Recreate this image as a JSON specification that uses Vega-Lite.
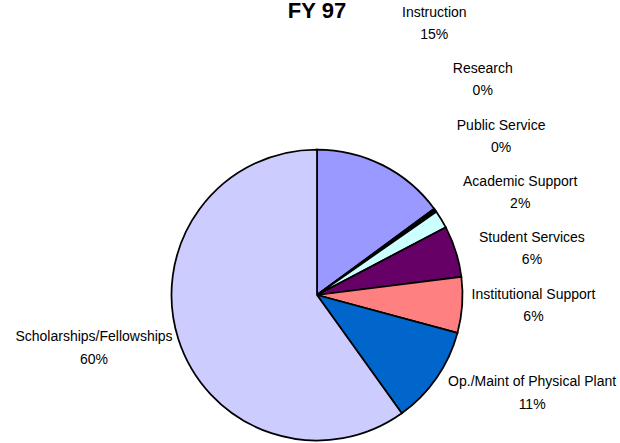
{
  "$schema": "https://vega.github.io/schema/vega-lite/v6.json",
  "autosize": {"type": "none"},
  "padding": {"left": 167, "top": 145, "right": 153, "bottom": 0},
  "width": 300,
  "height": 300,
  "background": "white",
  "config": {"view": {"stroke": null}},
  "title": {"text": "FY 97", "font": "Liberation Sans", "fontSize": 22, "fontWeight": "bold", "color": "black", "frame": "group", "anchor": "middle", "baseline": "alphabetic", "offset": -56.5},
  "data": {"values": [
    {"category": "Instruction", "share": 0.149, "rank": 1},
    {"category": "Research", "share": 0.002, "rank": 2},
    {"category": "Public Service", "share": 0.002, "rank": 3},
    {"category": "Academic Support", "share": 0.020, "rank": 4},
    {"category": "Student Services", "share": 0.057, "rank": 5},
    {"category": "Institutional Support", "share": 0.062, "rank": 6},
    {"category": "Op./Maint of Physical Plant", "share": 0.109, "rank": 7},
    {"category": "Scholarships/Fellowships", "share": 0.599, "rank": 8}
  ]},
  "encoding": {
    "theta": {"field": "share", "type": "quantitative", "stack": true},
    "order": {"field": "rank", "type": "quantitative"},
    "detail": {"field": "category", "type": "nominal"}
  },
  "layer": [
    {
      "mark": {"type": "arc", "radius": 145.5, "stroke": "black", "strokeWidth": 1.75},
      "encoding": {
        "color": {"field": "category", "type": "nominal", "legend": null,
          "scale": {"domain": ["Instruction", "Research", "Public Service", "Academic Support", "Student Services", "Institutional Support", "Op./Maint of Physical Plant", "Scholarships/Fellowships"],
                    "range": ["#9999FF", "#993366", "#FFFFCC", "#CCFFFF", "#660066", "#FF8080", "#0066CC", "#CCCCFF"]}}
      }
    },
    {"mark": {"type": "text", "radius": 291, "dx": -14, "dy": -18, "font": "Liberation Sans", "fontSize": 14, "align": "center", "baseline": "alphabetic", "color": "black"},
     "encoding": {"text": {"condition": {"test": "datum.category === 'Instruction'", "field": "category", "type": "nominal"}, "value": ""}}},
    {"mark": {"type": "text", "radius": 291, "dx": -14, "dy": 4, "font": "Liberation Sans", "fontSize": 14, "align": "center", "baseline": "alphabetic", "color": "black"},
     "encoding": {"text": {"condition": {"test": "datum.category === 'Instruction'", "field": "share", "type": "quantitative", "format": ".0%"}, "value": ""}}},
    {"mark": {"type": "text", "radius": 258, "dx": -43, "dy": -70, "font": "Liberation Sans", "fontSize": 14, "align": "center", "baseline": "alphabetic", "color": "black"},
     "encoding": {"text": {"condition": {"test": "datum.category === 'Research'", "field": "category", "type": "nominal"}, "value": ""}}},
    {"mark": {"type": "text", "radius": 258, "dx": -43, "dy": -48, "font": "Liberation Sans", "fontSize": 14, "align": "center", "baseline": "alphabetic", "color": "black"},
     "encoding": {"text": {"condition": {"test": "datum.category === 'Research'", "field": "share", "type": "quantitative", "format": ".0%"}, "value": ""}}},
    {"mark": {"type": "text", "radius": 239, "dx": -11, "dy": -27, "font": "Liberation Sans", "fontSize": 14, "align": "center", "baseline": "alphabetic", "color": "black"},
     "encoding": {"text": {"condition": {"test": "datum.category === 'Public Service'", "field": "category", "type": "nominal"}, "value": ""}}},
    {"mark": {"type": "text", "radius": 239, "dx": -11, "dy": -5, "font": "Liberation Sans", "fontSize": 14, "align": "center", "baseline": "alphabetic", "color": "black"},
     "encoding": {"text": {"condition": {"test": "datum.category === 'Public Service'", "field": "share", "type": "quantitative", "format": ".0%"}, "value": ""}}},
    {"mark": {"type": "text", "radius": 225, "dx": 11, "dy": 8, "font": "Liberation Sans", "fontSize": 14, "align": "center", "baseline": "alphabetic", "color": "black"},
     "encoding": {"text": {"condition": {"test": "datum.category === 'Academic Support'", "field": "category", "type": "nominal"}, "value": ""}}},
    {"mark": {"type": "text", "radius": 225, "dx": 11, "dy": 30, "font": "Liberation Sans", "fontSize": 14, "align": "center", "baseline": "alphabetic", "color": "black"},
     "encoding": {"text": {"condition": {"test": "datum.category === 'Academic Support'", "field": "share", "type": "quantitative", "format": ".0%"}, "value": ""}}},
    {"mark": {"type": "text", "radius": 218, "dx": 7, "dy": 12, "font": "Liberation Sans", "fontSize": 14, "align": "center", "baseline": "alphabetic", "color": "black"},
     "encoding": {"text": {"condition": {"test": "datum.category === 'Student Services'", "field": "category", "type": "nominal"}, "value": ""}}},
    {"mark": {"type": "text", "radius": 218, "dx": 7, "dy": 34, "font": "Liberation Sans", "fontSize": 14, "align": "center", "baseline": "alphabetic", "color": "black"},
     "encoding": {"text": {"condition": {"test": "datum.category === 'Student Services'", "field": "share", "type": "quantitative", "format": ".0%"}, "value": ""}}},
    {"mark": {"type": "text", "radius": 217, "dx": 0, "dy": -11, "font": "Liberation Sans", "fontSize": 14, "align": "center", "baseline": "alphabetic", "color": "black"},
     "encoding": {"text": {"condition": {"test": "datum.category === 'Institutional Support'", "field": "category", "type": "nominal"}, "value": ""}}},
    {"mark": {"type": "text", "radius": 217, "dx": 0, "dy": 11, "font": "Liberation Sans", "fontSize": 14, "align": "center", "baseline": "alphabetic", "color": "black"},
     "encoding": {"text": {"condition": {"test": "datum.category === 'Institutional Support'", "field": "share", "type": "quantitative", "format": ".0%"}, "value": ""}}},
    {"mark": {"type": "text", "radius": 235, "dx": 22, "dy": -43, "font": "Liberation Sans", "fontSize": 14, "align": "center", "baseline": "alphabetic", "color": "black"},
     "encoding": {"text": {"condition": {"test": "datum.category === 'Op./Maint of Physical Plant'", "field": "category", "type": "nominal"}, "value": ""}}},
    {"mark": {"type": "text", "radius": 235, "dx": 22, "dy": -20, "font": "Liberation Sans", "fontSize": 14, "align": "center", "baseline": "alphabetic", "color": "black"},
     "encoding": {"text": {"condition": {"test": "datum.category === 'Op./Maint of Physical Plant'", "field": "share", "type": "quantitative", "format": ".0%"}, "value": ""}}},
    {"mark": {"type": "text", "radius": 230, "dx": -4, "dy": -24, "font": "Liberation Sans", "fontSize": 14, "align": "center", "baseline": "alphabetic", "color": "black"},
     "encoding": {"text": {"condition": {"test": "datum.category === 'Scholarships/Fellowships'", "field": "category", "type": "nominal"}, "value": ""}}},
    {"mark": {"type": "text", "radius": 230, "dx": -4, "dy": -1, "font": "Liberation Sans", "fontSize": 14, "align": "center", "baseline": "alphabetic", "color": "black"},
     "encoding": {"text": {"condition": {"test": "datum.category === 'Scholarships/Fellowships'", "field": "share", "type": "quantitative", "format": ".0%"}, "value": ""}}}
  ]
}
